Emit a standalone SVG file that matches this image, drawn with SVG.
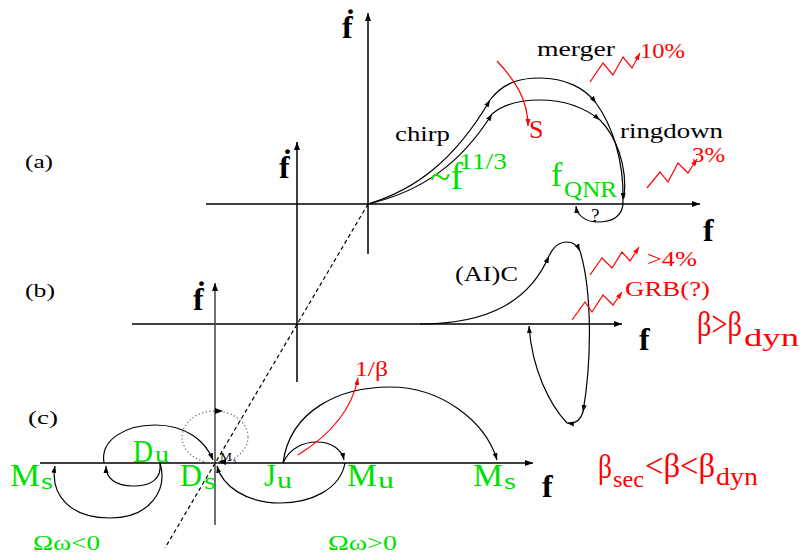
<svg xmlns="http://www.w3.org/2000/svg" width="801" height="554" viewBox="0 0 801 554">
<defs>
<marker id="ab" markerUnits="userSpaceOnUse" markerWidth="9" markerHeight="6" refX="8" refY="3" orient="auto"><path d="M0,0 L8,3 L0,6 z" fill="#000"/></marker>
<marker id="as" markerUnits="userSpaceOnUse" markerWidth="8" markerHeight="6" refX="7" refY="3" orient="auto"><path d="M0,0.5 L7,3 L0,5.5 z" fill="#000"/></marker>
<marker id="ar" markerUnits="userSpaceOnUse" markerWidth="8" markerHeight="6" refX="7" refY="3" orient="auto"><path d="M0,0.5 L7,3 L0,5.5 z" fill="#f00"/></marker>
</defs>
<style>
.ax{stroke:#000;stroke-width:1.5;fill:none}
.cv{stroke:#000;stroke-width:1.2;fill:none}
.rd{stroke:#f00;stroke-width:1.2;fill:none}
.t{font-family:"Liberation Serif","DejaVu Serif",serif;fill:#000}
.b{font-weight:bold}
.g{font-family:"Liberation Serif","DejaVu Serif",serif;fill:#00e000}
.r{font-family:"Liberation Serif","DejaVu Serif",serif;fill:#f00}
</style>
<g id="axes">
<path class="ax" d="M368,254 L368,13" marker-end="url(#ab)"/>
<path class="ax" d="M206,204 L700,204" marker-end="url(#ab)"/>
<path class="ax" d="M297,382 L297,142" marker-end="url(#ab)"/>
<path class="ax" d="M132,324 L622,324" marker-end="url(#ab)"/>
<path class="ax" d="M215,525 L215,283" marker-end="url(#ab)" style="stroke:#444"/>
<path class="ax" d="M40,463 L533,463" marker-end="url(#ab)"/>
<path d="M368,204 L165,548" stroke="#000" stroke-width="1.2" stroke-dasharray="4,3" fill="none"/>
</g>
<g id="connectors">
<path class="cv" d="M368,204 C415,190 455,160 490,100" marker-end="url(#as)"/>
<path class="cv" d="M490,100 C505,80 525,78 540,78 C565,78 585,88 596,103" marker-end="url(#as)"/>
<path class="cv" d="M596,103 C612,125 624,160 623,200" marker-end="url(#as)"/>
<path class="cv" d="M368,204 C420,192 460,165 492,114" marker-end="url(#as)"/>
<path class="cv" d="M492,114 C505,103 522,100 540,100 C565,100 585,108 600,120" marker-end="url(#as)"/>
<path class="cv" d="M600,120 C615,135 628,165 624,198"/>
<path class="cv" d="M623,200 C624,218 610,222 598,222 C585,222 577,215 576,206" marker-end="url(#as)"/>
<path class="rd" d="M497,61 C515,80 528,100 528,126" marker-end="url(#ar)"/>
<polyline class="rd" points="590,82 603,63 613,75 623,57 632,68 640,53" marker-end="url(#ar)"/>
<polyline class="rd" points="647,188 660,172 668,182 678,163 688,173 697,159" marker-end="url(#ar)"/>
<path class="cv" d="M420,324 C490,324 530,300 549,256" marker-end="url(#as)"/>
<path class="cv" d="M549,256 C555,243 562,242 567,242 C573,242 577,245 580,251" marker-end="url(#as)"/>
<path class="cv" d="M580,251 C592,290 592,360 583,412" marker-end="url(#as)"/>
<path class="cv" d="M583,412 C580,422 574,424 567,423" marker-end="url(#as)"/>
<path class="cv" d="M567,423 C550,405 532,370 529,326" marker-end="url(#as)"/>
<polyline class="rd" points="590,275 602,258 612,268 622,252 630,261 639,247" marker-end="url(#ar)"/>
<polyline class="rd" points="572,320 585,302 592,312 603,295 613,305 622,292" marker-end="url(#ar)"/>
<path class="cv" d="M160,463 C168,490 150,518 110,518 C70,518 50,495 55,466" marker-end="url(#as)"/>
<path class="cv" d="M160,463 C162,480 150,486 133,486 C115,486 106,478 106,466" marker-end="url(#as)"/>
<path class="cv" d="M104,463 C100,440 125,425 155,425 C185,425 205,440 213,460" marker-end="url(#as)"/>
<path class="cv" d="M345,463 C340,490 310,503 280,503 C245,503 222,485 217,466" marker-end="url(#as)"/>
<path class="cv" d="M283,463 C290,447 305,442 317,442 C332,442 342,450 344,460" marker-end="url(#as)"/>
<path class="cv" d="M283,463 C290,410 340,387 390,387 C440,387 485,420 497,460" marker-end="url(#as)"/>
<path class="rd" d="M298,455 C330,435 352,410 358,378" marker-end="url(#ar)"/>
<ellipse cx="215" cy="437" rx="33" ry="26" fill="none" stroke="#777" stroke-width="1.3" stroke-dasharray="1.3,2.3"/>
<polygon points="215,408 223,411 215,414" fill="#000"/>
<polygon points="226,459 218,462 226,465" fill="#000"/>
</g>
<g id="labels">
<text class="t" x="25" y="168" font-size="19" textLength="28" lengthAdjust="spacingAndGlyphs">(a)</text>
<text class="t" x="25" y="297" font-size="19" textLength="30" lengthAdjust="spacingAndGlyphs">(b)</text>
<text class="t" x="28" y="424" font-size="19" textLength="30" lengthAdjust="spacingAndGlyphs">(c)</text>
<text class="t b" x="342" y="38" font-size="32">ḟ</text>
<text class="t b" x="279" y="178" font-size="32">ḟ</text>
<text class="t b" x="193" y="310" font-size="32">ḟ</text>
<text class="t b" x="703" y="241" font-size="32">f</text>
<text class="t b" x="639" y="350" font-size="32">f</text>
<text class="t b" x="542" y="497" font-size="32">f</text>
<text class="t" x="395" y="141" font-size="22" textLength="55" lengthAdjust="spacingAndGlyphs">chirp</text>
<text class="t" x="537" y="56" font-size="22" textLength="78" lengthAdjust="spacingAndGlyphs">merger</text>
<text class="t" x="620" y="138" font-size="22" textLength="103" lengthAdjust="spacingAndGlyphs">ringdown</text>
<text class="g" x="430" y="189" font-size="38" textLength="33" lengthAdjust="spacingAndGlyphs">~f</text>
<text class="g" x="459" y="169" font-size="24" textLength="48" lengthAdjust="spacingAndGlyphs">11/3</text>
<text class="r" x="529" y="138" font-size="26">S</text>
<text class="g" x="551" y="186" font-size="34">f</text>
<text class="g" x="564" y="197" font-size="24" textLength="53" lengthAdjust="spacingAndGlyphs">QNR</text>
<text class="t" x="591" y="222" font-size="19">?</text>
<text class="r" x="640" y="58" font-size="22" textLength="45" lengthAdjust="spacingAndGlyphs">10%</text>
<text class="r" x="692" y="162" font-size="22" textLength="33" lengthAdjust="spacingAndGlyphs">3%</text>
<text class="t" x="455" y="281" font-size="21" textLength="63" lengthAdjust="spacingAndGlyphs">(AI)C</text>
<text class="r" x="647" y="266" font-size="20" textLength="50" lengthAdjust="spacingAndGlyphs">&gt;4%</text>
<text class="r" x="625" y="296" font-size="21" textLength="85" lengthAdjust="spacingAndGlyphs">GRB(?)</text>
<text class="r" x="697" y="336" font-size="36" textLength="45" lengthAdjust="spacingAndGlyphs">β&gt;β</text>
<text class="r" x="744" y="346" font-size="25" textLength="55" lengthAdjust="spacingAndGlyphs">dyn</text>
<text class="r" x="598" y="478" font-size="34" textLength="14" lengthAdjust="spacingAndGlyphs">β</text>
<text class="r" x="613" y="487" font-size="24" textLength="31" lengthAdjust="spacingAndGlyphs">sec</text>
<text class="r" x="645" y="477" font-size="34" textLength="70" lengthAdjust="spacingAndGlyphs">&lt;β&lt;β</text>
<text class="r" x="716" y="485" font-size="25" textLength="42" lengthAdjust="spacingAndGlyphs">dyn</text>
<text class="r" x="355" y="376" font-size="22" textLength="33" lengthAdjust="spacingAndGlyphs">1/β</text>
<text class="g" x="10" y="486" font-size="31" textLength="30" lengthAdjust="spacingAndGlyphs">M</text>
<text class="g" x="41" y="489" font-size="24" textLength="12" lengthAdjust="spacingAndGlyphs">s</text>
<text class="g" x="133" y="462" font-size="31" textLength="20" lengthAdjust="spacingAndGlyphs">D</text>
<text class="g" x="155" y="462" font-size="24" textLength="14" lengthAdjust="spacingAndGlyphs">u</text>
<text class="g" x="180" y="486" font-size="31" textLength="22" lengthAdjust="spacingAndGlyphs">D</text>
<text class="g" x="204" y="489" font-size="24" textLength="12" lengthAdjust="spacingAndGlyphs">s</text>
<text class="g" x="264" y="486" font-size="31" textLength="12" lengthAdjust="spacingAndGlyphs">J</text>
<text class="g" x="277" y="488" font-size="24" textLength="15" lengthAdjust="spacingAndGlyphs">u</text>
<text class="g" x="347" y="486" font-size="31" textLength="30" lengthAdjust="spacingAndGlyphs">M</text>
<text class="g" x="378" y="488" font-size="24" textLength="16" lengthAdjust="spacingAndGlyphs">u</text>
<text class="g" x="473" y="486" font-size="31" textLength="30" lengthAdjust="spacingAndGlyphs">M</text>
<text class="g" x="504" y="489" font-size="24" textLength="12" lengthAdjust="spacingAndGlyphs">s</text>
<text class="t" x="220" y="461" font-size="13" textLength="12" lengthAdjust="spacingAndGlyphs">M</text>
<text class="t" x="233" y="463" font-size="8">s</text>
<text class="g" x="33" y="550" font-size="21" textLength="67" lengthAdjust="spacingAndGlyphs">Ωω&lt;0</text>
<text class="g" x="328" y="550" font-size="21" textLength="69" lengthAdjust="spacingAndGlyphs">Ωω&gt;0</text>
</g>
</svg>
